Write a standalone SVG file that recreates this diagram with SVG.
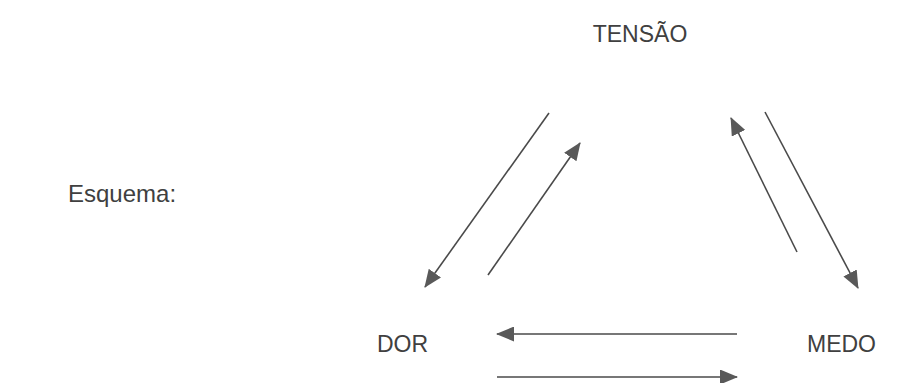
<svg xmlns="http://www.w3.org/2000/svg" width="916" height="383" viewBox="0 0 916 383">
  <style>
    .lbl { font-family: "Liberation Sans", Arial, sans-serif; font-size: 23px; fill: #404040; }
    .arr { stroke: #4a4a4a; stroke-width: 1.6; fill: none; marker-end: url(#head); }
  </style>
  <defs>
    <marker id="head" markerUnits="userSpaceOnUse" markerWidth="18" markerHeight="15" viewBox="0 0 18 15" refX="17" refY="7.5" orient="auto">
      <path d="M0,0 L18,7.5 L0,15 Z" fill="#595959"/>
    </marker>
  </defs>
  <rect width="916" height="383" fill="#ffffff"/>

  <text class="lbl" x="68" y="202" style="font-size:24px">Esquema:</text>

  <g id="tensao">
    <text class="lbl" x="640" y="42" text-anchor="middle">TENSÃO</text>
  </g>
  <g id="dor">
    <text class="lbl" x="377" y="352">DOR</text>
  </g>
  <g id="medo">
    <text class="lbl" x="807" y="352">MEDO</text>
  </g>

  <g id="connectors">
    <line class="arr" x1="549" y1="113" x2="425" y2="287"/>
    <line class="arr" x1="488" y1="275" x2="580" y2="143"/>
    <line class="arr" x1="797" y1="252" x2="731" y2="118"/>
    <line class="arr" x1="765" y1="112" x2="858" y2="288"/>
    <line class="arr" x1="737" y1="334" x2="497" y2="334"/>
    <line class="arr" x1="497" y1="377" x2="737" y2="377"/>
  </g>
</svg>
